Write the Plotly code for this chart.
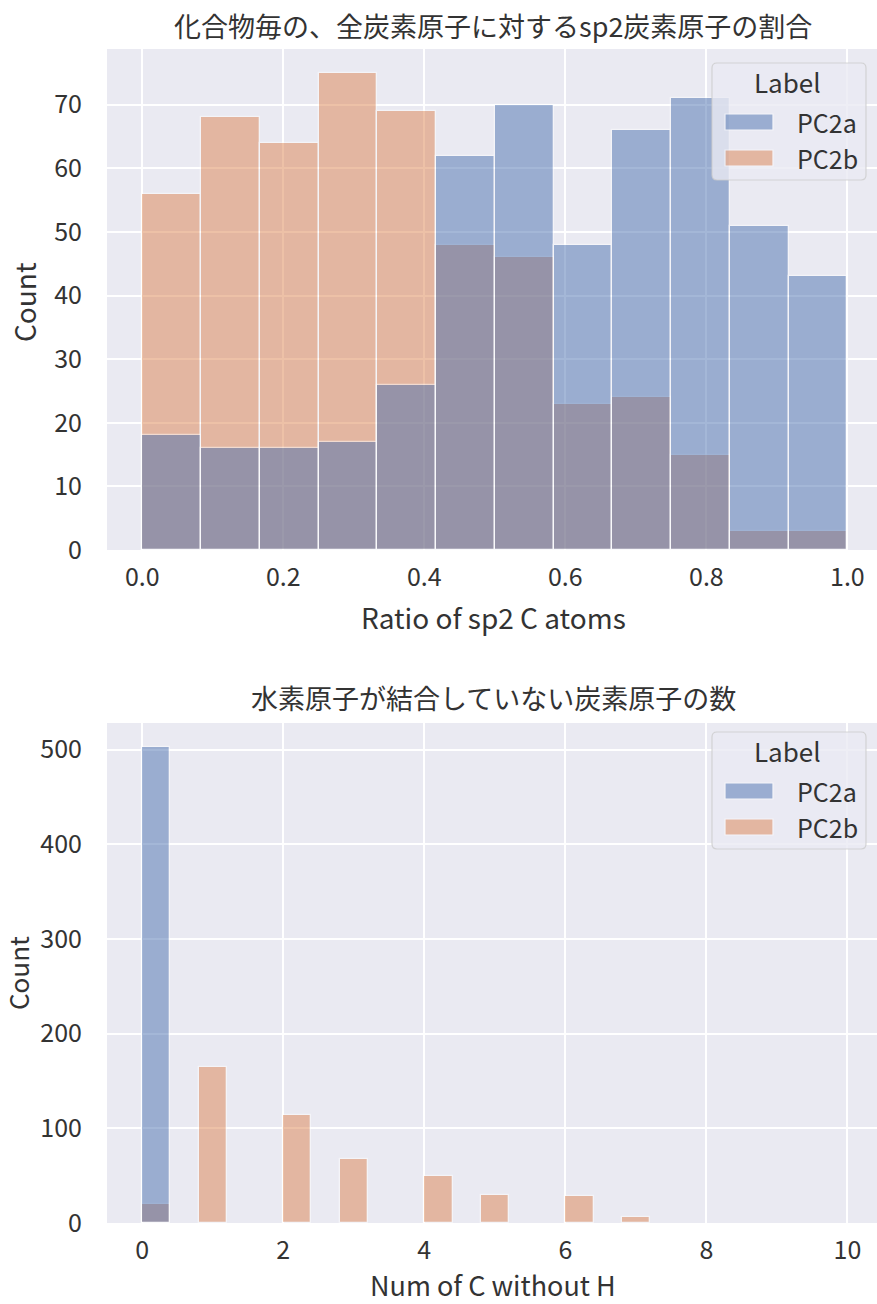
import numpy as np
import plotly.graph_objects as go

# ---- data -------------------------------------------------------------
labels = ["PC2a", "PC2b"]

# Ratio of sp2 carbons: 12 equal bins over [0, 1]
sp2_bin_edges = np.linspace(0.0, 1.0, 13)
sp2_counts_pc2a = [18, 16, 16, 17, 26, 62, 70, 48, 66, 71, 51, 43]
sp2_counts_pc2b = [56, 68, 64, 75, 69, 48, 46, 23, 24, 15, 3, 3]

# Number of carbons without hydrogen: counts per integer value 0..10
noh_values = list(range(11))
noh_counts_pc2a = [503, 0, 0, 0, 0, 0, 0, 0, 0, 0, 0]
noh_counts_pc2b = [20, 165, 114, 68, 50, 30, 28, 6, 0, 0, 0]
noh_bin_edges = np.linspace(0.0, 10.0, 26)   # 25 bins of width 0.4

sp2_xticks = [0.0, 0.2, 0.4, 0.6, 0.8, 1.0]
noh_xticks = [0, 2, 4, 6, 8, 10]

colors = {"PC2a": "#4C72B0", "PC2b": "#DD8452"}
BG = "#EAEAF2"
TXT = "#333333"
FONT = "Noto Sans CJK JP"

W, H = 877, 1304


def fx(px):
    return px / W


def fy(py):
    return 1 - py / H


def binned(values, counts, edges):
    """Place integer-valued counts into histogram bins; return centers, widths, heights."""
    n = len(edges) - 1
    heights = np.zeros(n)
    for v, c in zip(values, counts):
        idx = min(int(np.searchsorted(edges, v, side="right")) - 1, n - 1)
        heights[idx] += c
    centers = (edges[:-1] + edges[1:]) / 2
    widths = np.diff(edges)
    keep = heights > 0
    return centers[keep], widths[keep], heights[keep]


fig = go.Figure()

# hue levels are layered with PC2b underneath and PC2a on top
sp2_centers = (sp2_bin_edges[:-1] + sp2_bin_edges[1:]) / 2
sp2_widths = np.diff(sp2_bin_edges)
for name, counts in [("PC2b", sp2_counts_pc2b), ("PC2a", sp2_counts_pc2a)]:
    fig.add_trace(go.Bar(
        x=sp2_centers, y=counts, width=sp2_widths, name=name,
        marker=dict(color=colors[name], line=dict(color="white", width=1.3)),
        opacity=0.5, xaxis="x", yaxis="y", showlegend=False,
    ))

for name, counts in [("PC2b", noh_counts_pc2b), ("PC2a", noh_counts_pc2a)]:
    cx, cw, ch = binned(noh_values, counts, noh_bin_edges)
    fig.add_trace(go.Bar(
        x=cx, y=ch, width=cw, name=name,
        marker=dict(color=colors[name], line=dict(color="white", width=1.3)),
        opacity=0.5, xaxis="x2", yaxis="y2", showlegend=False,
    ))

axis_common = dict(
    showgrid=True, gridcolor="white", gridwidth=1.8,
    zeroline=False, showline=False, ticks="",
    tickfont=dict(family=FONT, size=25, color=TXT),
    automargin=False,
)

x_dom = [fx(107), 1.0]
top_plot = (49, 550)
bot_plot = (723, 1223)

fig.update_layout(
    width=W, height=H,
    margin=dict(l=0, r=0, t=0, b=0),
    paper_bgcolor="white", plot_bgcolor=BG,
    barmode="overlay", bargap=0,
    showlegend=False,
    xaxis=dict(axis_common, domain=x_dom, anchor="y", range=[-0.05, 1.042],
               tickvals=sp2_xticks, ticktext=[f"{t:.1f}" for t in sp2_xticks],
               ticklabelstandoff=10),
    yaxis=dict(axis_common, domain=[fy(top_plot[1]), fy(top_plot[0])], anchor="x",
               range=[0, max(max(sp2_counts_pc2a), max(sp2_counts_pc2b)) * 1.05],
               dtick=10, ticklabelstandoff=24),
    xaxis2=dict(axis_common, domain=x_dom, anchor="y2", range=[-0.5, 10.42],
                tickvals=noh_xticks, ticklabelstandoff=10),
    yaxis2=dict(axis_common, domain=[fy(bot_plot[1]), fy(bot_plot[0])], anchor="x2",
                range=[0, max(noh_counts_pc2a) * 1.05],
                dtick=100, ticklabelstandoff=24),
)

annotations = []
shapes = []


def text(px, py, s, size=26, angle=0):
    annotations.append(dict(
        x=fx(px), y=fy(py), xref="paper", yref="paper", text=s, showarrow=False,
        xanchor="center", yanchor="middle", textangle=angle,
        font=dict(family=FONT, size=size, color=TXT),
    ))


# titles and axis labels
text(493, 25, "化合物毎の、全炭素原子に対するsp2炭素原子の割合", size=27)
text(493, 617, "Ratio of sp2 C atoms", size=28)
text(24, 302, "Count", size=28, angle=-90)

text(493, 697, "水素原子が結合していない炭素原子の数", size=27)
text(493, 1284, "Num of C without H", size=27)
text(17, 973, "Count", size=26, angle=-90)


def legend(top):
    """Legend box in the upper right of a panel, top edge at pixel row `top`."""
    x0, x1 = 712, 866
    y0, y1 = top, top + 117
    r = 5
    path = (f"M{fx(x0 + r)},{fy(y0)} L{fx(x1 - r)},{fy(y0)} "
            f"Q{fx(x1)},{fy(y0)} {fx(x1)},{fy(y0 + r)} "
            f"L{fx(x1)},{fy(y1 - r)} Q{fx(x1)},{fy(y1)} {fx(x1 - r)},{fy(y1)} "
            f"L{fx(x0 + r)},{fy(y1)} Q{fx(x0)},{fy(y1)} {fx(x0)},{fy(y1 - r)} "
            f"L{fx(x0)},{fy(y0 + r)} Q{fx(x0)},{fy(y0)} {fx(x0 + r)},{fy(y0)} Z")
    shapes.append(dict(type="path", xref="paper", yref="paper", path=path,
                       fillcolor="rgba(234,234,242,0.8)",
                       line=dict(color="rgba(204,204,204,0.8)", width=1.2)))
    text(787, top + 19, "Label", size=26)
    for i, name in enumerate(labels):
        cy = top + 59 + 36 * i
        shapes.append(dict(type="rect", xref="paper", yref="paper",
                           x0=fx(725), x1=fx(773), y0=fy(cy - 8), y1=fy(cy + 8),
                           fillcolor=colors[name], opacity=0.5,
                           line=dict(color="white", width=1.2)))
        annotations.append(dict(
            x=fx(795), y=fy(cy), xref="paper", yref="paper", text=name,
            showarrow=False, xanchor="left", yanchor="middle",
            font=dict(family=FONT, size=25, color=TXT),
        ))


legend(63)
legend(732)

fig.update_layout(annotations=annotations, shapes=shapes)

fig.write_html("out.html")
